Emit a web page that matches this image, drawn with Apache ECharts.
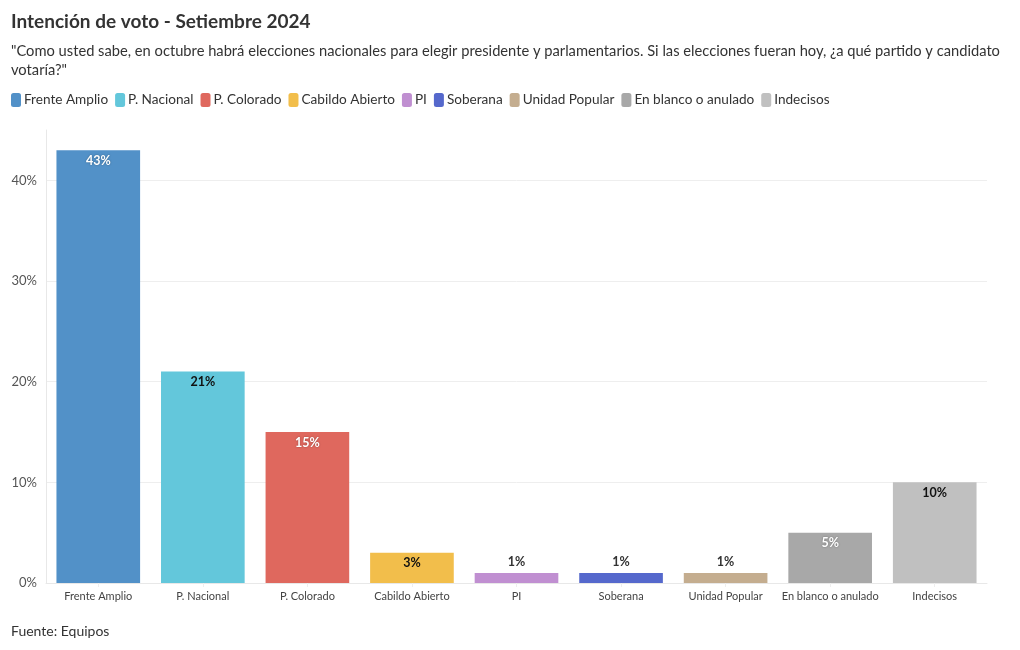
<!DOCTYPE html>
<html><head><meta charset="utf-8">
<script src="https://cdn.jsdelivr.net/npm/echarts@6/dist/echarts.min.js"></script>
<style>html,body{margin:0;padding:0;background:#fff}#c{width:1020px;height:650px}</style>
</head><body><div id="c"></div>
<script>
const categories = ["Frente Amplio","P. Nacional","P. Colorado","Cabildo Abierto","PI","Soberana","Unidad Popular","En blanco o anulado","Indecisos"];
const values = [43, 21, 15, 3, 1, 1, 1, 5, 10];
const colors = ["#5291c8","#63c7db","#df685e","#f2be4b","#c08fd1","#5568cc","#c4ad8f","#a8a8a8","#c0c0c0"];
const labelColors = ["#fff","#111","#fff","#111","#333","#333","#333","#fff","#111"];
const yTicks = [0,10,20,30,40];
const FONT = "'Source Sans Pro','Lato',sans-serif";

const series = categories.map((name,i)=>({
  name, type:'bar', stack:'all', barCategoryGap:'20%',
  data: categories.map((c,j)=> j===i ? values[i] : null),
  itemStyle:{color:colors[i]},
  label:{show:true, position: values[i] < 2 ? 'top' : 'insideTop', distance: 4,
    formatter: p => p.value + '%', color: labelColors[i], fontWeight:'bold', fontSize:12.5, fontFamily:FONT,
    textShadowColor: labelColors[i]==='#fff' ? 'rgba(0,0,0,0.35)' : 'transparent', textShadowBlur: labelColors[i]==='#fff'?2:0}
}));

const chart = echarts.init(document.getElementById('c'));
chart.setOption({
  animation:false,
  textStyle:{fontFamily:FONT},
  title:[
    {text:'Intención de voto - Setiembre 2024', left:6, top:7, textStyle:{fontSize:19, fontWeight:'bold', color:'#333', fontFamily:FONT}},
    {text:'"Como usted sabe, en octubre habrá elecciones nacionales para elegir presidente y parlamentarios. Si las elecciones fueran hoy, ¿a qué partido y candidato\nvotaría?"', left:6, top:37, textStyle:{fontSize:14.7, fontWeight:'normal', color:'#333', lineHeight:19, fontFamily:FONT}},
    {text:'Fuente: Equipos', left:6, top:619, textStyle:{fontSize:14, fontWeight:'normal', color:'#333', fontFamily:FONT}}
  ],
  legend:{left:6, top:88, itemWidth:10, itemHeight:14, itemGap:7, icon:'roundRect',
    textStyle:{fontSize:13.6, color:'#333', fontFamily:FONT, padding:[0,0,0,-2]}, data:categories, selectedMode:false},
  grid:{left:46, right:33, top:130, bottom:67},
  xAxis:{type:'category', data:categories,
    axisLine:{show:true, lineStyle:{color:'#e8e8e8'}},
    axisTick:{show:true, alignWithLabel:true, length:4, lineStyle:{color:'#eee'}},
    splitLine:{show:false},
    axisLabel:{fontSize:11, color:'#444', margin:8, interval:0, fontFamily:FONT}},
  yAxis:{type:'value', min:0, max:45, interval:10,
    axisLine:{show:true, lineStyle:{color:'#e8e8e8'}},
    axisTick:{show:false},
    splitLine:{lineStyle:{color:['#eeeeee','#eeeeee','#eeeeee','#eeeeee','#eeeeee','rgba(0,0,0,0)']}},
    axisLabel:{fontSize:13, color:'#555', margin:9, fontFamily:FONT,
      formatter: v => yTicks.includes(v) ? v + '%' : '', showMaxLabel:false}},
  series
});
</script></body></html>
